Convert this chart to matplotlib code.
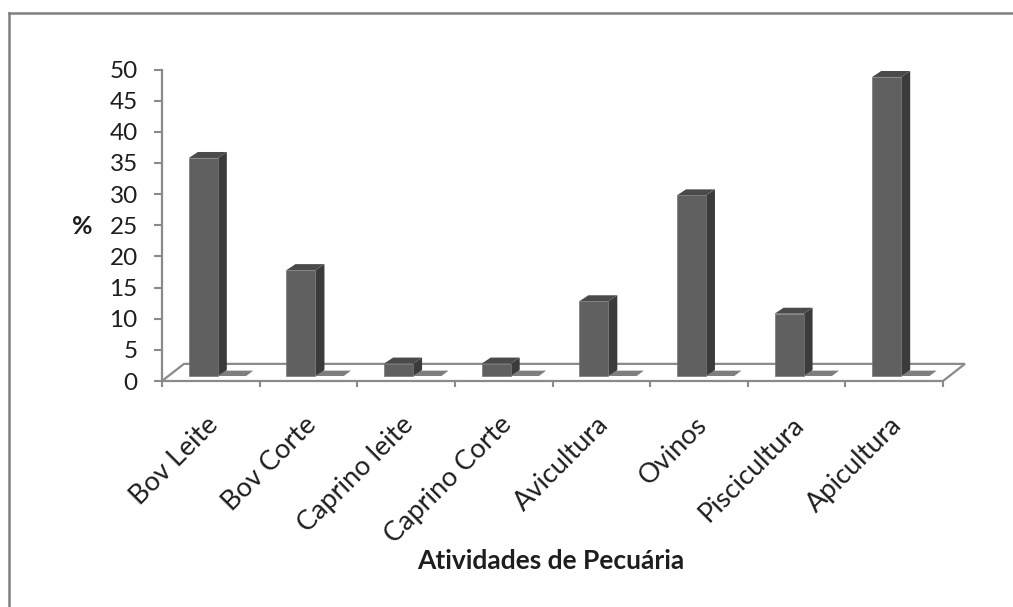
import matplotlib
matplotlib.use("Agg")
import matplotlib.pyplot as plt
from matplotlib.patches import Polygon
from matplotlib.lines import Line2D
from matplotlib.transforms import ScaledTranslation
import numpy as np

categories = ["Bov Leite", "Bov Corte", "Caprino leite", "Caprino Corte",
              "Avicultura", "Ovinos", "Piscicultura", "Apicultura"]
values = [35, 17, 2, 2, 12, 29, 10, 48]
yticks = list(range(0, 55, 5))
xlabel = "Atividades de Pecuária"
ylabel = "%"

plt.rcParams['font.family'] = ['Lato', 'DejaVu Sans']

W, H = 1013, 607
fig = plt.figure(figsize=(W / 100, H / 100), dpi=100)
fig.patch.set_facecolor('white')
ax = fig.add_axes([162 / W, 1 - 381 / H, 781 / W, 311.5 / H])
ax.set_xlim(-0.5, 7.5)
ax.set_ylim(0, 50)
ax.patch.set_alpha(0)

front_c = '#606060'
side_c = '#3b3b3b'
top_c = '#4a4a4a'
shadow_c = '#7e7e7e'
axis_c = '#8a8a8a'
text_c = '#1e1e1e'

# 3D geometry (in data units)
fdx, fdy = 0.225, 2.75      # floor depth
base = 0.8                  # bar base above front edge
bdx, bdy = 0.092, 0.96      # bar depth
bar_off = -0.225
bar_w = 0.297
sh_len = 0.29

x = np.arange(len(categories))

# floor
floor = Polygon([(-0.5, 0), (7.5, 0), (7.5 + fdx, fdy), (-0.5 + fdx, fdy)],
                closed=True, facecolor='white', edgecolor=axis_c, lw=1.6,
                zorder=1, clip_on=False, joinstyle='miter')
ax.add_patch(floor)

# front faces
bars = ax.bar(x + bar_off, values, width=bar_w, bottom=base, align='edge',
              color=front_c, edgecolor='#777777', linewidth=0.5,
              zorder=4, clip_on=False)

for rect in bars:
    L = rect.get_x()
    R = L + rect.get_width()
    b = rect.get_y()
    t = b + rect.get_height()
    # shadow on floor
    ax.add_patch(Polygon([(R, b), (R + sh_len, b), (R + sh_len + bdx * 0.8, b + bdy * 0.9),
                          (R + bdx * 0.8, b + bdy * 0.9)], closed=True,
                         facecolor=shadow_c, edgecolor='none', zorder=2, clip_on=False))
    # side face
    ax.add_patch(Polygon([(R, b), (R + bdx, b + bdy), (R + bdx, t + bdy), (R, t)],
                         closed=True, facecolor=side_c, edgecolor='none',
                         zorder=3, clip_on=False))
    # top face
    ax.add_patch(Polygon([(L, t), (R, t), (R + bdx, t + bdy), (L + bdx, t + bdy)],
                         closed=True, facecolor=top_c, edgecolor='none',
                         zorder=3, clip_on=False))

# axes styling
for s in ['top', 'right']:
    ax.spines[s].set_visible(False)
ax.spines['bottom'].set_visible(False)
ax.spines['left'].set_color(axis_c)
ax.spines['left'].set_linewidth(1.6)
ax.spines['left'].set_zorder(5)

ax.set_yticks(yticks)
ax.set_yticklabels([str(v) for v in yticks], fontsize=17.5, color=text_c)
ax.tick_params(axis='y', length=6, width=1.5, color=axis_c, pad=11.5)

ax.set_xticks(np.arange(-0.5, len(categories) + 0.5, 1.0))
ax.set_xticklabels([])
ax.tick_params(axis='x', length=4.5, width=1.5, color=axis_c, direction='out')

off = ScaledTranslation(-5 / 100, -31 / 100, fig.dpi_scale_trans)
for i, lab in enumerate(categories):
    ax.text(i, 0, lab, transform=ax.transData + off, rotation=45,
            ha='right', va='top', rotation_mode='anchor',
            fontsize=19.5, color=text_c)

fig.text(551 / W, 1 - 561 / H, xlabel, ha='center', va='center',
         fontsize=19, fontweight='bold', color=text_c)
fig.text(82 / W, 1 - 227 / H, ylabel, ha='center', va='center',
         fontsize=18, fontweight='bold', color=text_c)

# outer frame (left and top lines)
fig.add_artist(Line2D([8.5 / W, 8.5 / W], [0, 1 - 13 / H], transform=fig.transFigure,
                      color='#808080', lw=1.8, solid_capstyle='projecting'))
fig.add_artist(Line2D([8.5 / W, 1], [1 - 13 / H, 1 - 13 / H], transform=fig.transFigure,
                      color='#808080', lw=1.8, solid_capstyle='projecting'))

fig.savefig('out.png', dpi=100, facecolor='white')
